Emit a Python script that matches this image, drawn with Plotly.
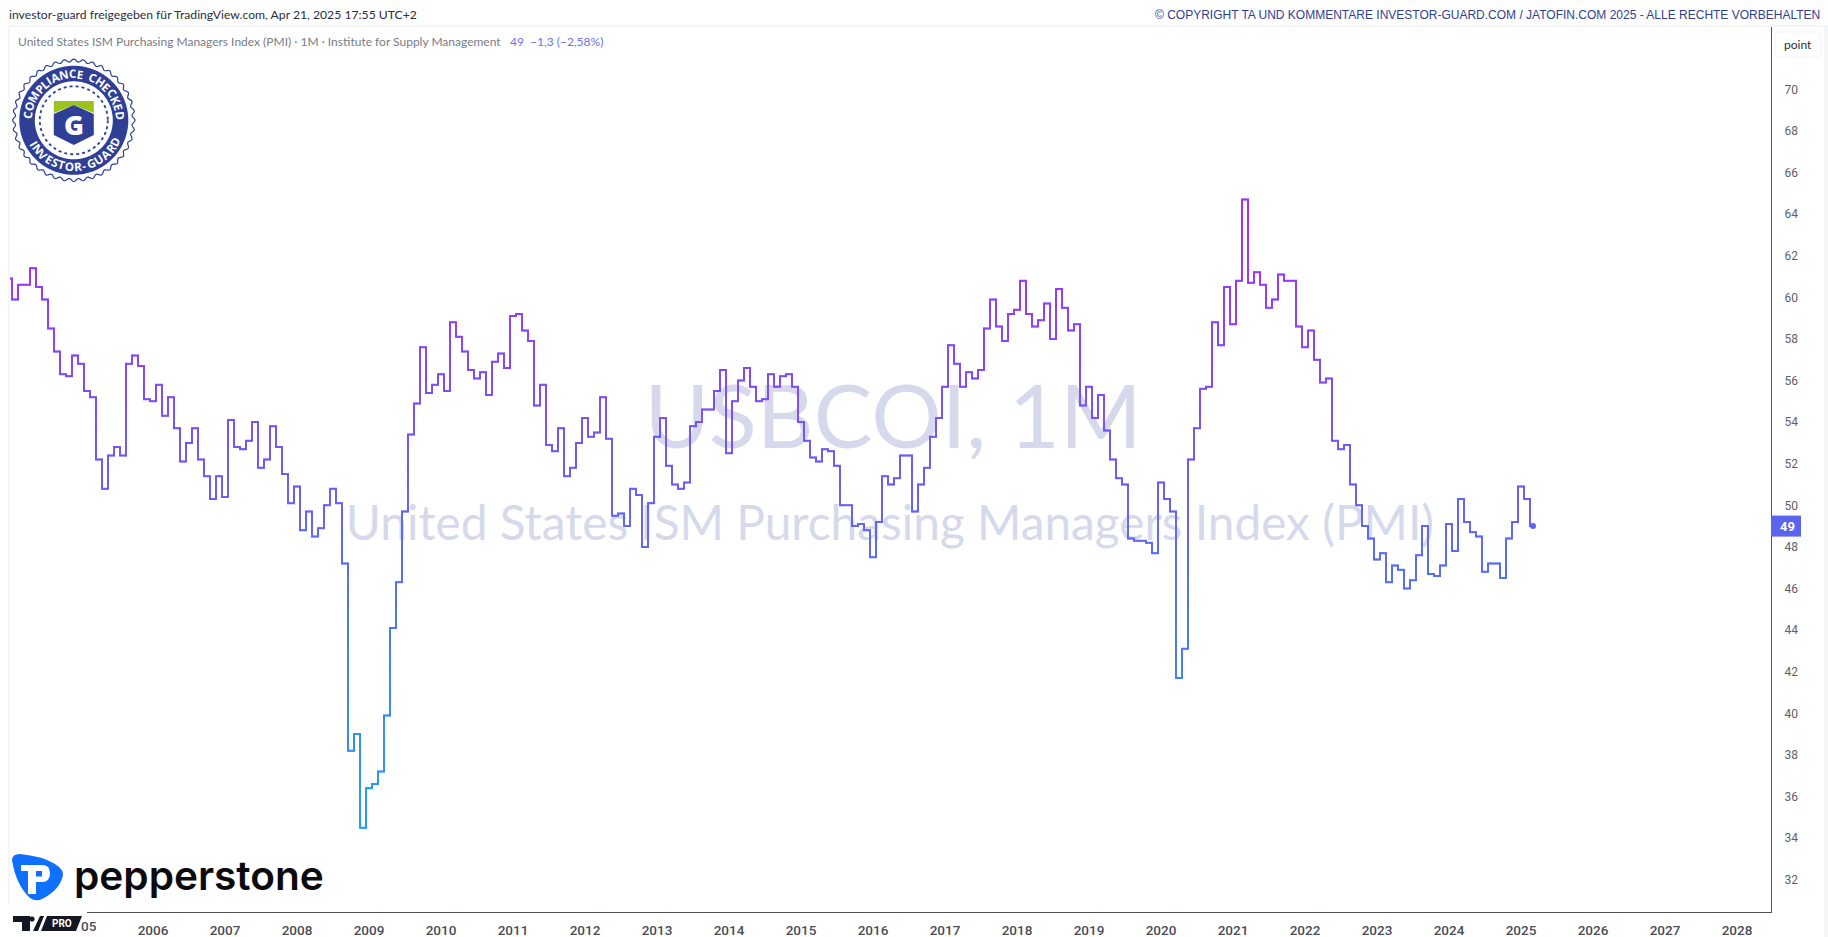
import math
import plotly.graph_objects as go

# ---------- data ----------
SYMBOL = "USBCOI, 1M"
NAME = "United States ISM Purchasing Managers Index (PMI)"
START_YEAR = 2004  # first value is January of this year; monthly values
pmi_2004_2009 = [
    60.9, 59.9, 60.6, 60.6, 61.4, 60.5, 59.9, 58.5, 57.4, 56.3, 56.2, 57.2,
    56.8, 55.5, 55.2, 52.2, 50.8, 52.4, 52.8, 52.4, 56.8, 57.2, 56.7, 55.1,
    55.0, 55.8, 54.3, 55.2, 53.7, 52.1, 53.0, 53.7, 52.2, 51.4, 50.3, 51.4,
    50.4, 54.1, 52.8, 52.7, 53.1, 54.0, 51.8, 52.2, 53.8, 52.8, 51.5, 50.1,
    50.9, 48.8, 49.7, 48.5, 48.9, 50.0, 50.8, 50.1, 47.2, 38.2, 39.0, 34.5,
    36.4, 36.6, 37.2, 39.9, 44.1, 46.3, 49.7, 53.4, 54.9, 57.6, 55.4, 55.8,
]
pmi_2010_2015 = [
    56.3, 55.5, 58.8, 58.1, 57.4, 56.5, 56.1, 56.4, 55.3, 56.9, 57.3, 56.6,
    59.1, 59.2, 58.4, 57.9, 54.8, 55.8, 52.9, 52.6, 53.7, 51.4, 51.8, 53.0,
    54.2, 53.3, 53.5, 55.2, 53.2, 49.5, 49.6, 49.0, 50.8, 50.5, 48.0, 50.1,
    53.3, 54.2, 51.9, 51.0, 50.8, 51.1, 53.8, 54.0, 54.6, 54.6, 55.5, 56.5,
    52.5, 55.0, 56.0, 56.6, 55.7, 55.0, 55.1, 56.3, 55.7, 56.2, 56.3, 55.7,
    54.0, 53.1, 52.3, 52.1, 52.7, 52.6, 51.9, 50.0, 50.0, 49.0, 49.1, 48.8,
]
pmi_2016_2021 = [
    47.5, 49.2, 51.4, 51.0, 51.3, 52.4, 52.4, 49.7, 51.0, 51.8, 53.3, 54.2,
    55.7, 57.7, 56.8, 55.7, 56.4, 56.1, 56.5, 58.5, 59.9, 58.6, 57.9, 59.2,
    59.4, 60.8, 59.2, 58.6, 58.9, 59.7, 58.0, 60.4, 59.5, 58.4, 58.7, 54.8,
    55.7, 54.2, 55.3, 53.6, 52.2, 51.3, 51.0, 48.4, 48.3, 48.3, 48.2, 47.7,
    51.1, 50.3, 49.7, 41.7, 43.1, 52.2, 53.7, 55.6, 55.7, 58.8, 57.7, 60.5,
    58.7, 60.8, 64.7, 60.7, 61.2, 60.6, 59.5, 59.9, 61.1, 60.8, 60.8, 58.6,
]
pmi_2022_2025 = [
    57.6, 58.4, 57.0, 55.9, 56.1, 53.1, 52.7, 52.9, 51.0, 50.0, 49.0, 48.4,
    47.4, 47.7, 46.3, 47.1, 46.9, 46.0, 46.4, 47.6, 49.0, 46.7, 46.6, 47.1,
    49.1, 47.8, 50.3, 49.2, 48.7, 48.5, 46.8, 47.2, 47.2, 46.5, 48.4, 49.2,
    50.9, 50.3, 49.0,
]
pmi = pmi_2004_2009 + pmi_2010_2015 + pmi_2016_2021 + pmi_2022_2025
year_labels = [str(y) for y in range(2006, 2029)]
price_ticks = list(range(32, 72, 2))
last_value = pmi[-1]

# ---------- page geometry ----------
W, H = 1828, 937
L, R, T, B = 10, 1771, 27, 912
month_px = 6.0
x_first_px = 9.0            # pixel centre of the first month
y70_px, unit_px = 89.3, 20.8

def X(px):
    return (px - L) / (R - L)

def Y(py):
    return (B - py) / (B - T)

def path(cmd):
    """cmd: list of ('M'|'L', x, y) / ('Q', cx, cy, x, y) / ('Z',) in page pixels"""
    out = []
    for c in cmd:
        if c[0] == "Z":
            out.append("Z")
        elif c[0] == "Q":
            out.append(f"Q{X(c[1]):.6f},{Y(c[2]):.6f} {X(c[3]):.6f},{Y(c[4]):.6f}")
        else:
            out.append(f"{c[0]}{X(c[1]):.6f},{Y(c[2]):.6f}")
    return " ".join(out)

def ring(cx, cy, r, scallops=0, amp=0.0, n=480):
    pts = []
    for k in range(n):
        a = 2 * math.pi * k / n
        rr = r + amp * math.cos(scallops * a) if scallops else r
        pts.append(("M" if k == 0 else "L", cx + rr * math.cos(a), cy + rr * math.sin(a)))
    pts.append(("Z",))
    return path(pts)

def shp(d, fill="rgba(0,0,0,0)", line=None, width=0, dash=None, layer="above"):
    s = dict(type="path", xref="paper", yref="paper", path=d, fillcolor=fill, layer=layer,
             line=dict(color=line or "rgba(0,0,0,0)", width=width))
    if dash:
        s["line"]["dash"] = dash
    return s

def box(x0, y0, x1, y1, fill, line=None, width=0, layer="above"):
    return shp(path([("M", x0, y0), ("L", x1, y0), ("L", x1, y1), ("L", x0, y1), ("Z",)]),
               fill, line, width, layer=layer)

def note(px, py, text, size, color, font="Lato", anchor="center", vanchor="middle",
         weight=None, angle=0):
    f = dict(family=font, size=size, color=color)
    if weight:
        f["weight"] = weight
    return dict(xref="paper", yref="paper", x=X(px), y=Y(py), text=text, showarrow=False,
                xanchor=anchor, yanchor=vanchor, font=f, textangle=angle, borderpad=0, borderwidth=0)

# ---------- gradient colour by value ----------
C_LO, C_HI = (30, 160, 240), (170, 40, 250)
V_LO, V_HI = 34.5, 64.7

def grad(v):
    t = max(0.0, min(1.0, (v - V_LO) / (V_HI - V_LO)))
    return "rgb(%d,%d,%d)" % tuple(round(a + (b - a) * t) for a, b in zip(C_LO, C_HI))

BIN = 0.5
OFF = 0.03

def bin_of(v):
    return math.floor((v - OFF) / BIN)

bands = {}

def add_point(b, x, y, new=False):
    d = bands.setdefault(b, ([], []))
    if new and d[0]:
        d[0].append(None)
        d[1].append(None)
    d[0].append(x)
    d[1].append(y)

idx = list(range(len(pmi)))
cur = bin_of(pmi[0])
add_point(cur, 0, pmi[0], True)
for i in idx[1:]:
    xm = i - 0.5
    a, b = pmi[i - 1], pmi[i]
    add_point(cur, xm, a)
    step = 1 if b > a else -1
    while bin_of(b) != cur:
        edge = (cur + (1 if step > 0 else 0)) * BIN + OFF
        add_point(cur, xm, edge)
        cur += step
        add_point(cur, xm, edge, True)
    add_point(cur, xm, b)
    add_point(cur, i + 0.5 if i < idx[-1] else i, b)

fig = go.Figure()

# watermark sits under the series
fig.add_trace(go.Scatter(x=[(893 - x_first_px) / month_px], y=[70 - (426 - y70_px) / unit_px], mode="text",
                         text=[SYMBOL], textposition="middle center", hoverinfo="skip", showlegend=False,
                         textfont=dict(family="Lato", size=88, color="#d6d9eb")))
fig.add_trace(go.Scatter(x=[(890 - x_first_px) / month_px], y=[70 - (528 - y70_px) / unit_px], mode="text",
                         text=[NAME], textposition="middle center", hoverinfo="skip", showlegend=False,
                         textfont=dict(family="Lato", size=47.8, color="#d6d9eb")))

fig.add_trace(go.Scatter(x=idx, y=pmi, mode="lines", name="ISM PMI", showlegend=False,
                         line=dict(shape="hvh", width=1.5, color="#5b63ef")))
for b in sorted(bands):
    xs, ys = bands[b]
    fig.add_trace(go.Scatter(x=xs, y=ys, mode="lines", showlegend=False, hoverinfo="skip",
                             line=dict(width=2, color=grad((b + 0.5) * BIN + OFF))))
fig.add_trace(go.Scatter(x=[idx[-1]], y=[last_value], mode="markers", showlegend=False,
                         marker=dict(size=6, color="#5b63ef")))

shapes = []
annos = []

# chrome
shapes.append(box(0, 0, W, 25, "#ffffff"))
shapes.append(box(8, 25, W, 27, "#f4f5f7"))
shapes.append(box(8, 27, 10, 905, "#f4f5f7"))
shapes.append(box(1824, 27, W, H, "#f4f5f7"))
annos.append(note(9, 15, "investor-guard freigegeben für TradingView.com, Apr 21, 2025 17:55 UTC+2",
                  12.2, "#2a2e39", anchor="left"))
annos.append(note(1820, 15, "© COPYRIGHT TA UND KOMMENTARE INVESTOR-GUARD.COM / JATOFIN.COM 2025 - ALLE RECHTE VORBEHALTEN",
                  12, "#2f3f8f", font="Liberation Sans", anchor="right"))
annos.append(note(18, 42, NAME + " · 1M · Institute for Supply Management", 12, "#787b86", anchor="left"))
annos.append(note(510, 42, f"{last_value:g}  −1,3 (−2,58%)", 12, "#6a72f0", anchor="left"))

# unit button
shapes.append(shp(path([("M", 1779, 32), ("L", 1817, 32), ("Q", 1821, 32, 1821, 36), ("L", 1821, 53),
                        ("Q", 1821, 57, 1817, 57), ("L", 1779, 57), ("Q", 1775, 57, 1775, 53),
                        ("L", 1775, 36), ("Q", 1775, 32, 1779, 32), ("Z",)]), "#ffffff", "#f0f3fa", 1))
annos.append(note(1798, 44.5, "point", 12, "#2a2e39"))

# last value tag
tag_y = y70_px + (70 - last_value) * unit_px
shapes.append(box(1771, tag_y - 10.5, 1801, tag_y + 10.5, "#5b63ef"))
annos.append(note(1788, tag_y + 0.5, f"{last_value:g}", 13, "#ffffff", font="Roboto", weight=700))

# compliance badge
NAVY = "#2f3f96"
bx, by = 73.8, 120.3
shapes.append(shp(ring(bx, by, 59.8, scallops=40, amp=1.4), "#ffffff", NAVY, 1.2))
shapes.append(shp(ring(bx, by, 54.5), NAVY))
shapes.append(shp(ring(bx, by, 39), "#ffffff"))
shapes.append(shp(ring(bx, by, 34), "rgba(0,0,0,0)", NAVY, 1.8, dash="dot"))
shapes.append(shp(path([("M", bx - 20, 113), ("L", bx - 20, 101), ("L", bx + 20, 101), ("L", bx + 20, 113),
                        ("L", bx, 105), ("Z",)]), "#9bc31c"))
shapes.append(shp(path([("M", bx - 20, 114), ("L", bx, 105), ("L", bx + 20, 114), ("L", bx + 20, 135),
                        ("L", bx, 145), ("L", bx - 20, 135), ("Z",)]), NAVY))
annos.append(note(bx, 124.5, "G", 27, "#ffffff", font="Open Sans", weight=800))

CHAR_W = {"I": 0.38, " ": 0.36, "-": 0.42, "M": 0.95, "L": 0.58, "E": 0.6, "R": 0.68, "O": 0.82, "G": 0.78,
          "C": 0.68, "D": 0.76, "H": 0.78, "K": 0.68, "A": 0.72, "N": 0.8, "P": 0.62, "S": 0.58, "T": 0.6,
          "U": 0.76, "V": 0.68}

def arc_text(text, a0, a1, r, top=True):
    w = [CHAR_W[c] for c in text]
    # cumulative centre of each glyph, from first to last centre
    cs = []
    run = 0.0
    for k, v in enumerate(w):
        cs.append(run + v / 2)
        run += v
    lo, hi = cs[0], cs[-1]
    for ch, c in zip(text, cs):
        a = a0 + (a1 - a0) * (c - lo) / (hi - lo)
        rad = math.radians(a)
        if top:
            px, py, rot = bx + r * math.sin(rad), by - r * math.cos(rad), a
        else:
            px, py, rot = bx + r * math.sin(rad), by + r * math.cos(rad), -a
        if ch != " ":
            annos.append(note(px, py, ch, 11.6, "#ffffff", font="Open Sans", weight=700, angle=rot))

arc_text("COMPLIANCE CHECKED", -84, 84, 46.6, True)
arc_text("INVESTOR-GUARD", -60, 63, 46.2, False)

# pepperstone logo
shapes.append(shp(path([("M", 12, 860), ("Q", 12, 854, 20, 854), ("Q", 42, 856, 55, 864), ("Q", 64, 870, 63, 875),
                        ("Q", 60, 890, 42, 899), ("Q", 36, 902, 30, 898), ("Q", 16, 885, 12, 860), ("Z",)]), "#0f6fff"))
shapes.append(shp(path([("M", 21, 865), ("L", 42, 865), ("Q", 50, 865, 50, 873), ("Q", 50, 882, 42, 882),
                        ("L", 36, 882), ("L", 36, 894), ("L", 28, 894), ("L", 28, 871), ("L", 21, 871), ("Z",)]), "#ffffff"))
shapes.append(box(36, 871, 42, 876.5, "#0f6fff"))
annos.append(note(74, 875, "pepperstone", 40.6, "#0b0b0f", font="Inter", anchor="left", weight=600))

# TV PRO logo (also hides the start of the time axis)
shapes.append(box(0, 905, 87, H, "#ffffff"))
shapes.append(shp(path([("M", 13, 916), ("L", 30, 916), ("L", 30, 931), ("L", 22, 931), ("L", 22, 922), ("L", 13, 922), ("Z",)]), "#131722"))
shapes.append(shp(ring(32, 919, 2.6), "#131722"))
shapes.append(shp(path([("M", 33, 931), ("L", 40, 916), ("L", 44, 916), ("L", 38, 931), ("Z",)]), "#131722"))
shapes.append(shp(path([("M", 47, 916), ("L", 82, 916), ("L", 76, 931), ("L", 41, 931), ("Z",)]), "#131722"))
annos.append(note(61.5, 923.5, "PRO", 10, "#ffffff", font="Roboto", weight=700))
annos.append(note(97, 926, "05", 13.5, "#4a4d57", font="Roboto", anchor="right", weight=500))

fig.update_layout(
    width=W, height=H, autosize=False, showlegend=False,
    margin=dict(l=L, r=W - R, t=T, b=H - B, pad=0),
    paper_bgcolor="#ffffff", plot_bgcolor="#ffffff",
    shapes=shapes, annotations=annos,
    xaxis=dict(range=[(L - x_first_px) / month_px, (R - x_first_px) / month_px], automargin=False,
               tickvals=[12 * (int(y) - START_YEAR) for y in year_labels], ticktext=year_labels,
               showgrid=False, zeroline=False, showline=True, linecolor="#50535e", linewidth=1,
               ticks="", ticklabelstandoff=6,
               tickfont=dict(family="Roboto", size=13.5, color="#4a4d57", weight=500)),
    yaxis=dict(range=[70 - (B - y70_px) / unit_px, 70 - (T - y70_px) / unit_px], side="right", automargin=False,
               tickvals=price_ticks, ticktext=[str(v) for v in price_ticks],
               showgrid=False, zeroline=False, showline=True, linecolor="#50535e", linewidth=1,
               ticks="", ticklabelstandoff=10,
               tickfont=dict(family="Roboto", size=12, color="#5d606b")),
)

fig.write_html("out.html", config={"displayModeBar": False},
               post_script="document.body.style.margin='0';document.body.style.overflow='hidden';")
